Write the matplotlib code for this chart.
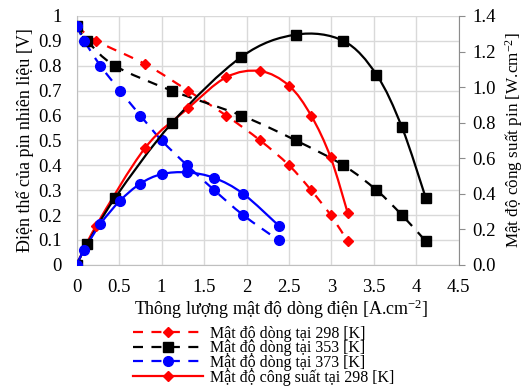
import numpy as np
import matplotlib
matplotlib.use("Agg")
import matplotlib.pyplot as plt
from matplotlib.path import Path
from matplotlib.patches import PathPatch
from matplotlib.lines import Line2D

plt.rcParams['font.family'] = ['Liberation Serif', 'DejaVu Serif']
plt.rcParams['mathtext.fontset'] = 'custom'
plt.rcParams['mathtext.rm'] = 'Liberation Serif'
plt.rcParams['mathtext.default'] = 'regular'

# current density [A/cm2] and cell voltage [V]
i298 = [0, 0.23, 0.81, 1.31, 1.76, 2.16, 2.50, 2.76, 2.99, 3.19]
v298 = [0.96, 0.90, 0.806, 0.70, 0.60, 0.50, 0.40, 0.30, 0.20, 0.095]
p298 = [0, 0.22, 0.66, 0.88, 1.055, 1.09, 1.008, 0.84, 0.605, 0.294]

i353 = [0, 0.125, 0.45, 1.12, 1.94, 2.58, 3.14, 3.53, 3.83, 4.11]
v353 = [0.96, 0.90, 0.80, 0.70, 0.60, 0.50, 0.40, 0.30, 0.20, 0.095]
p353 = [0, 0.116, 0.375, 0.797, 1.17, 1.295, 1.26, 1.07, 0.774, 0.377]

i373 = [0, 0.09, 0.28, 0.51, 0.75, 1.0, 1.30, 1.62, 1.96, 2.38]
v373 = [0.96, 0.90, 0.80, 0.70, 0.60, 0.50, 0.40, 0.30, 0.20, 0.098]
p373 = [0, 0.086, 0.23, 0.36, 0.457, 0.51, 0.52, 0.489, 0.40, 0.22]

labels = ['Mật độ dòng tại 298 [K]', 'Mật độ dòng tại 353 [K]',
          'Mật độ dòng tại 373 [K]', 'Mật độ công suất tại 298 [K]']

DASH = (0, (4.5, 3.8))
FS = 13.5


def smooth_path(x, y):
    # Excel-like smoothed line (Catmull-Rom as cubic Bezier)
    p = np.column_stack([x, y]).astype(float)
    n = len(p)
    verts = [p[0]]
    codes = [Path.MOVETO]
    for k in range(n - 1):
        p0 = p[k - 1] if k > 0 else p[k]
        p1 = p[k]
        p2 = p[k + 1]
        p3 = p[k + 2] if k + 2 < n else p[k + 1]
        c1 = p1 + (p2 - p0) / 6.0
        c2 = p2 - (p3 - p1) / 6.0
        verts += [c1, c2, p2]
        codes += [Path.CURVE4] * 3
    return Path(verts, codes)


def draw(ax, x, y, color, ls, marker, ms):
    ax.add_patch(PathPatch(smooth_path(x, y), fill=False, edgecolor=color,
                           lw=1.6, linestyle=ls, zorder=3))
    ax.plot(x, y, ls='none', marker=marker, ms=ms, color=color, zorder=4)


fig = plt.figure(figsize=(5.25, 3.9), dpi=100)
ax = fig.add_axes([0.146, 0.321, 0.728, 0.638])
ax2 = ax.twinx()

ax.set_xlim(0, 4.5)
ax.set_ylim(0, 1)
ax2.set_ylim(0, 1.4)
ax.set_xticks(np.arange(0, 4.51, 0.5))
ax.set_xticklabels(['0', '0.5', '1', '1.5', '2', '2.5', '3', '3.5', '4', '4.5'])
ax.set_yticks(np.arange(0, 1.01, 0.1))
ax.set_yticklabels(['0', '0.1', '0.2', '0.3', '0.4', '0.5', '0.6', '0.7', '0.8', '0.9', '1'])
ax2.set_yticks(np.arange(0, 1.41, 0.2))
ax2.set_yticklabels(['%.1f' % v for v in np.arange(0, 1.41, 0.2)])

ax.grid(True, color='#d9d9d9', lw=1)
ax.set_axisbelow(True)
for a in (ax, ax2):
    for s in a.spines.values():
        s.set_visible(False)
ax.spines['left'].set_visible(True)
ax.spines['left'].set_color('#bfbfbf')
ax.spines['bottom'].set_visible(True)
ax.spines['bottom'].set_color('#bfbfbf')
ax2.spines['right'].set_visible(True)
ax2.spines['right'].set_color('#8c8c8c')

ax.tick_params(axis='y', length=0, labelsize=FS, pad=11)
ax.tick_params(axis='x', length=0, labelsize=FS, pad=10)
ax2.tick_params(axis='y', length=4, color='#8c8c8c', labelsize=FS, pad=6)

ax.set_ylabel('Điện thế của pin nhiên liệu [V]', fontsize=13, labelpad=3)
ax2.set_ylabel('Mật độ công suất pin [W.cm$^{-2}$]', fontsize=12.3, labelpad=5)
ax.set_xlabel('Thông lượng mật độ dòng điện [A.cm$^{-2}$]', fontsize=13, labelpad=3)
ax.xaxis.set_label_coords(0.536, -0.13)

draw(ax, i298, v298, 'red', DASH, 'D', 5)
draw(ax, i353, v353, 'black', DASH, 's', 6.8)
draw(ax, i373, v373, 'blue', DASH, 'o', 7)
draw(ax2, i298, p298, 'red', '-', 'D', 5)
draw(ax2, i353, p353, 'black', '-', 's', 6.8)
draw(ax2, i373, p373, 'blue', '-', 'o', 7)

handles = [
    Line2D([], [], color='red', lw=1.6, ls=DASH, marker='D', ms=5),
    Line2D([], [], color='black', lw=1.6, ls=DASH, marker='s', ms=6.8),
    Line2D([], [], color='blue', lw=1.6, ls=DASH, marker='o', ms=7),
    Line2D([], [], color='red', lw=1.6, ls='-', marker='D', ms=5),
]
fig.legend(handles, labels, loc='upper left', bbox_to_anchor=(0.253, 0.164),
           frameon=False, fontsize=11.5, handlelength=4.4, handletextpad=0.45,
           labelspacing=-0.1, borderpad=0, borderaxespad=0)

fig.savefig('out.png', dpi=100)
